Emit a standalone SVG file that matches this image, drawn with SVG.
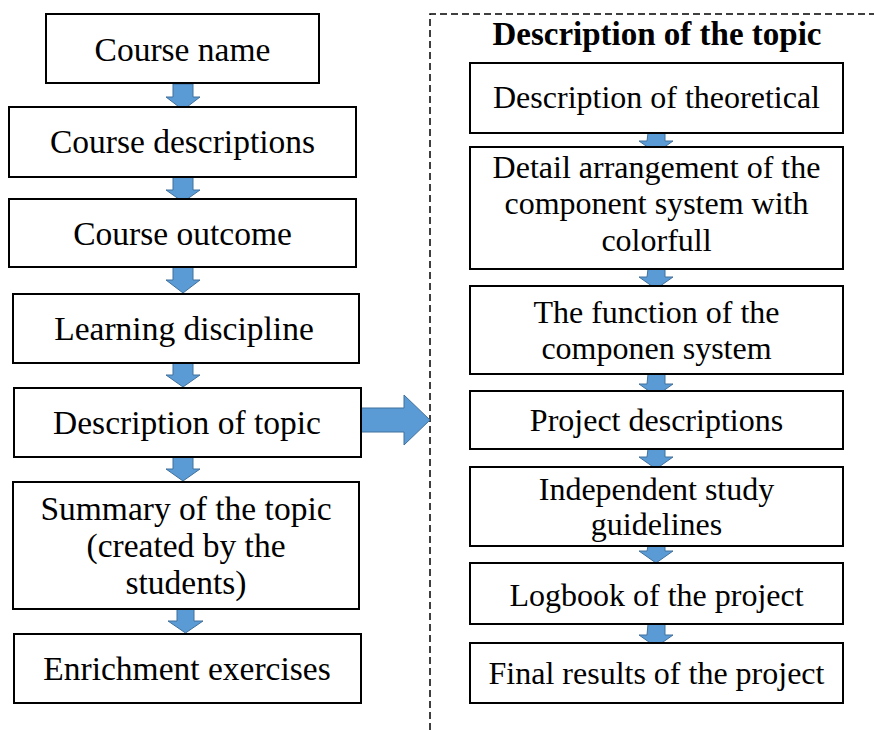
<svg xmlns="http://www.w3.org/2000/svg" width="874" height="730" viewBox="0 0 874 730">
<style>
.box{fill:#fff;stroke:#000;stroke-width:2}
.lblL{font-family:"Liberation Serif","Times New Roman",serif;font-size:33.5px;fill:#000;text-anchor:middle}
.lblR{font-family:"Liberation Serif","Times New Roman",serif;font-size:32px;fill:#000;text-anchor:middle}
.ttl{font-family:"Liberation Serif","Times New Roman",serif;font-size:33px;font-weight:bold;fill:#000;text-anchor:middle}
.arr{fill:#5B9BD5;stroke:#41719C;stroke-width:1}
.dash{fill:none;stroke:#000;stroke-width:1.5;stroke-dasharray:7 4}
</style>
<rect width="874" height="730" fill="#fff"/>
<g id="frame">
<path class="dash" d="M430,730 V14 H874"/>
</g>
<g id="connectors">
<path class="arr" d="M173,84 h20 v13 h7 l-17,13 l-17,-13 h7 z"/>
<path class="arr" d="M173,177 h20 v13 h7 l-17,12 l-17,-12 h7 z"/>
<path class="arr" d="M173,267 h20 v13 h7 l-17,13 l-17,-13 h7 z"/>
<path class="arr" d="M173,363 h20 v12 h7 l-17,12 l-17,-12 h7 z"/>
<path class="arr" d="M173,457 h20 v12 h7 l-17,12 l-17,-12 h7 z"/>
<path class="arr" d="M177,609 h17 v12 h9 l-17.5,12 l-17.5,-12 h9 z"/>
<path class="arr" d="M361,408 h43 v-13 l26,25 l-26,25 v-13 h-43 z"/>
<path class="arr" d="M648,133 h17 v8 h8 l-17,12 l-17,-12 h8 z"/>
<path class="arr" d="M648,269 h17 v8 h8 l-17,12 l-17,-12 h8 z"/>
<path class="arr" d="M648,374 h17 v10 h8 l-17,12 l-17,-12 h8 z"/>
<path class="arr" d="M648,449 h17 v8 h8 l-17,12 l-17,-12 h8 z"/>
<path class="arr" d="M648,546 h17 v5 h8 l-17,12 l-17,-12 h8 z"/>
<path class="arr" d="M648,624 h17 v11 h8 l-17,12 l-17,-12 h8 z"/>
</g>
<g id="n1"><rect class="box" x="46" y="14" width="273" height="69"/><text class="lblL" x="182.5" y="61">Course name</text></g>
<g id="n2"><rect class="box" x="9" y="107" width="347" height="70"/><text class="lblL" x="182.5" y="153">Course descriptions</text></g>
<g id="n3"><rect class="box" x="9" y="199" width="347" height="68"/><text class="lblL" x="182.5" y="245">Course outcome</text></g>
<g id="n4"><rect class="box" x="13" y="294" width="346" height="69"/><text class="lblL" x="184" y="340">Learning discipline</text></g>
<g id="n5"><rect class="box" x="14" y="388" width="347" height="69"/><text class="lblL" x="187" y="434">Description of topic</text></g>
<g id="n6"><rect class="box" x="13" y="482" width="346" height="127"/><text class="lblL" x="186" y="520">Summary of the topic</text><text class="lblL" x="186" y="557">(created by the</text><text class="lblL" x="186" y="594">students)</text></g>
<g id="n7"><rect class="box" x="14" y="634" width="347" height="69"/><text class="lblL" x="187" y="680">Enrichment exercises</text></g>
<g id="title"><text class="ttl" x="657" y="45">Description of the topic</text></g>
<g id="r1"><rect class="box" x="470" y="63" width="373" height="70"/><text class="lblR" x="656.5" y="108">Description of theoretical</text></g>
<g id="r2"><rect class="box" x="470" y="147" width="373" height="122"/><text class="lblR" x="656.5" y="178">Detail arrangement of the</text><text class="lblR" x="656.5" y="214">component system with</text><text class="lblR" x="656.5" y="251">colorfull</text></g>
<g id="r3"><rect class="box" x="470" y="286" width="373" height="88"/><text class="lblR" x="656.5" y="323">The function of the</text><text class="lblR" x="656.5" y="359">componen system</text></g>
<g id="r4"><rect class="box" x="470" y="391" width="373" height="58"/><text class="lblR" x="656.5" y="431">Project descriptions</text></g>
<g id="r5"><rect class="box" x="470" y="467" width="373" height="79"/><text class="lblR" x="656.5" y="500">Independent study</text><text class="lblR" x="656.5" y="535">guidelines</text></g>
<g id="r6"><rect class="box" x="470" y="563" width="373" height="61"/><text class="lblR" x="656.5" y="606">Logbook of the project</text></g>
<g id="r7"><rect class="box" x="470" y="643" width="373" height="60"/><text class="lblR" x="656.5" y="684">Final results of the project</text></g>
</svg>
